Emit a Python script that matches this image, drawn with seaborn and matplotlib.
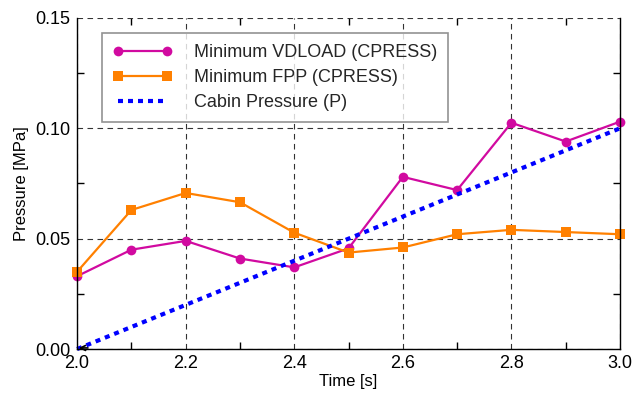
import numpy as np
import pandas as pd
import matplotlib
matplotlib.use("Agg")
import matplotlib.pyplot as plt
import seaborn as sns

time = [2.0, 2.1, 2.2, 2.3, 2.4, 2.5, 2.6, 2.7, 2.8, 2.9, 3.0]
vdload = [0.033, 0.045, 0.049, 0.041, 0.037, 0.0456, 0.078, 0.072, 0.1025, 0.094, 0.103]
fpp = [0.035, 0.063, 0.0707, 0.0665, 0.0527, 0.0437, 0.046, 0.052, 0.054, 0.053, 0.052]
cabin_t = [2.0, 3.0]
cabin_p = [0.0, 0.10]

sns.set_theme(style="white")
plt.rcParams['font.family'] = ['Liberation Sans', 'DejaVu Sans']

fig = plt.figure(figsize=(6.32, 3.98), dpi=100)
ax = fig.add_axes([0.122, 0.123, 0.859, 0.832])

df1 = pd.DataFrame({"t": time, "p": vdload})
df2 = pd.DataFrame({"t": time, "p": fpp})
df3 = pd.DataFrame({"t": cabin_t, "p": cabin_p})

sns.lineplot(data=df1, x="t", y="p", ax=ax, color="#d10aa0", marker="o", markersize=7,
             markeredgewidth=0, linewidth=1.6, label="Minimum VDLOAD (CPRESS)", clip_on=False)
sns.lineplot(data=df2, x="t", y="p", ax=ax, color="#ff8000", marker="s", markersize=7,
             markeredgewidth=0, linewidth=1.6, label="Minimum FPP (CPRESS)", clip_on=False)
sns.lineplot(data=df3, x="t", y="p", ax=ax, color="#0000ff", linewidth=3,
             linestyle=(0, (1.2, 1.2)), label="Cabin Pressure (P)", clip_on=False)
ann = ax.annotate("", xy=(2.003, 0.0005), xytext=(2.02, 0.0005),
                  arrowprops=dict(arrowstyle="->", color="black", lw=1.2, mutation_scale=9,
                                  shrinkA=0, shrinkB=0), annotation_clip=False)
ann.set_zorder(10)

ax.set_xlim(2.0, 3.0)
ax.set_ylim(0.0, 0.15)
ax.set_xticks([2.0, 2.2, 2.4, 2.6, 2.8, 3.0])
ax.set_xticks([2.1, 2.3, 2.5, 2.7, 2.9], minor=True)
ax.set_yticks([0.0, 0.05, 0.10, 0.15])
ax.set_yticks([0.025, 0.075, 0.125], minor=True)
ax.set_xticklabels(["2.0", "2.2", "2.4", "2.6", "2.8", "3.0"])
ax.set_yticklabels(["0.00", "0.05", "0.10", "0.15"])
ax.tick_params(which="both", direction="in", top=True, right=True, labelsize=13,
               color="black", labelcolor="black", bottom=True, left=True)
ax.tick_params(which="major", length=0, width=0.8)
ax.tick_params(which="minor", length=5, width=1.0)
ax.tick_params(axis="x", pad=4)
ax.tick_params(axis="y", pad=5)
ax.grid(True, which="major", linestyle=(0, (5, 4)), color="#333333", linewidth=0.8)
for s in ["left", "bottom", "right"]:
    ax.spines[s].set_color("black")
    ax.spines[s].set_linewidth(1.0)
ax.spines["top"].set_visible(False)

ax.set_xlabel("Time [s]", fontsize=12, color="black", labelpad=2)
ax.set_ylabel("Pressure [MPa]", fontsize=12, color="black", labelpad=4)

leg = ax.legend(loc="upper left", bbox_to_anchor=(0.035, 0.97), fontsize=13, frameon=True,
                fancybox=False, edgecolor="#777777", handlelength=3.3, borderpad=0.6,
                labelspacing=0.45, handletextpad=1.2, borderaxespad=0.3, numpoints=2)
leg.get_frame().set_linewidth(1.2)

fig.savefig("out.png", dpi=100)
